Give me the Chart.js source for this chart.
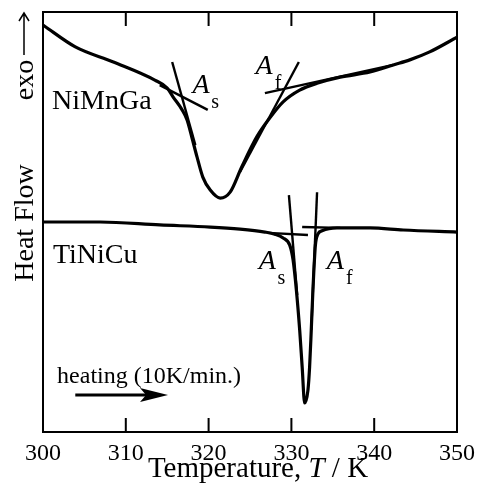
<!DOCTYPE html>
<html>
<head>
<meta charset="utf-8">
<script src="https://cdn.jsdelivr.net/npm/chart.js@4.4.1/dist/chart.umd.min.js"></script>
<style>
  html, body { margin: 0; padding: 0; background: #fff; }
</style>
</head>
<body>
<canvas id="dscChart" width="478" height="490"></canvas>
<script>
// DSC heating traces, temperature in K, heat flow in arbitrary units (exo up)
const niMnGaTemp = [300.0, 303.9, 308.5, 313.5, 315.0, 315.7, 316.8, 317.4, 318.0, 318.6, 319.3, 320.2, 321.4,
                    322.6, 324.0, 325.8, 327.4, 329.0, 331.0, 333.2, 335.9, 339.5, 342.3, 344.3, 346.7, 350.0];
const niMnGaHeat = [96.9, 91.7, 88.1, 83.8, 81.9, 79.8, 76.7, 74.3, 70.0, 65.5, 60.7, 57.6, 55.7,
                    57.1, 63.1, 70.2, 74.8, 78.6, 81.4, 83.1, 84.5, 85.7, 87.4, 88.6, 90.5, 94.0];

const tiNiCuTemp = [300.0, 306.9, 314.1, 320.2, 323.8, 326.8, 328.0, 329.0, 329.8, 330.2, 330.6, 331.0, 331.3,
                    331.6, 332.0, 332.2, 332.4, 332.6, 332.9, 333.2, 333.7, 335.5, 339.5, 343.5, 350.0];
const tiNiCuHeat = [50.0, 50.0, 49.3, 48.8, 48.3, 47.6, 47.1, 46.2, 44.5, 41.0, 33.8, 24.3, 15.5,
                    6.9, 10.0, 15.5, 24.3, 33.8, 44.5, 47.1, 47.9, 48.6, 48.6, 48.1, 47.6];

// tangent construction lines (start/end) used to read As and Af
const tangentTemps = [[314.1, 319.9], [315.6, 318.4], [326.8, 342.3], [330.9, 323.8],
                      [327.2, 332.0], [329.7, 330.7], [331.3, 335.9], [333.1, 332.4]];
const tangentHeats = [[82.6, 76.7], [88.1, 68.3], [80.7, 87.4], [88.1, 61.9],
                      [47.4, 46.9], [56.4, 32.6], [48.8, 48.6], [57.1, 24.3]];

const tickTemps = [300, 310, 320, 330, 340, 350];

// text annotations
const sampleNames = ['NiMnGa', 'TiNiCu'];
const sampleTemps = [301.1, 301.2];
const sampleHeats = [78.6, 41.9];

const markSubs = ['s', 'f', 's', 'f'];
const markTemps = [319.1, 326.7, 327.1, 335.3];
const markHeats = [82.4, 86.9, 40.5, 40.5];

const heatingText = 'heating (10K/min.)';
const heatingPos = [301.7, 11.7];
const heatingArrow = [303.9, 315.1, 8.8];

const FONT = '"Liberation Serif", "Times New Roman", serif';

function toPoints(xs, ys) {
    return xs.map((x, i) => ({ x: x, y: ys[i] }));
}

const datasets = [
    {
        label: 'NiMnGa',
        data: toPoints(niMnGaTemp, niMnGaHeat),
        borderColor: '#000',
        borderWidth: 3.2,
        pointRadius: 0,
        cubicInterpolationMode: 'monotone'
    },
    {
        label: 'TiNiCu',
        data: toPoints(tiNiCuTemp, tiNiCuHeat),
        borderColor: '#000',
        borderWidth: 3.2,
        pointRadius: 0,
        cubicInterpolationMode: 'monotone'
    }
];

tangentTemps.forEach(function (xs, i) {
    datasets.push({
        label: 'tangent ' + i,
        data: toPoints(xs, tangentHeats[i]),
        borderColor: '#000',
        borderWidth: 2.4,
        pointRadius: 0
    });
});

const decorations = {
    id: 'decorations',
    afterDraw(chart) {
        const ctx = chart.ctx;
        const a = chart.chartArea;
        const x = chart.scales.x;
        const y = chart.scales.y;
        ctx.save();
        ctx.fillStyle = '#000';
        ctx.strokeStyle = '#000';

        // frame with inward ticks on top and bottom
        ctx.lineWidth = 2;
        ctx.strokeRect(a.left, a.top, a.right - a.left, a.bottom - a.top);
        tickTemps.forEach(function (t) {
            const px = x.getPixelForValue(t);
            ctx.beginPath();
            ctx.moveTo(px, a.bottom);
            ctx.lineTo(px, a.bottom - 14);
            ctx.moveTo(px, a.top);
            ctx.lineTo(px, a.top + 14);
            ctx.stroke();
        });

        // sample names
        ctx.font = '28px ' + FONT;
        ctx.textAlign = 'left';
        ctx.textBaseline = 'middle';
        sampleNames.forEach(function (name, i) {
            ctx.fillText(name, x.getPixelForValue(sampleTemps[i]), y.getPixelForValue(sampleHeats[i]));
        });

        // As / Af markers
        markSubs.forEach(function (sub, i) {
            const px = x.getPixelForValue(markTemps[i]);
            const py = y.getPixelForValue(markHeats[i]);
            ctx.textAlign = 'center';
            ctx.font = 'italic 28px ' + FONT;
            ctx.fillText('A', px, py);
            ctx.font = '20px ' + FONT;
            ctx.fillText(sub, px + 14, py + 17);
        });

        // heating note and arrow
        ctx.font = '24px ' + FONT;
        ctx.textAlign = 'left';
        ctx.textBaseline = 'alphabetic';
        ctx.fillText(heatingText, x.getPixelForValue(heatingPos[0]), y.getPixelForValue(heatingPos[1]));
        const ax0 = x.getPixelForValue(heatingArrow[0]);
        const ax1 = x.getPixelForValue(heatingArrow[1]);
        const ay = y.getPixelForValue(heatingArrow[2]);
        ctx.lineWidth = 3;
        ctx.beginPath();
        ctx.moveTo(ax0, ay);
        ctx.lineTo(ax1 - 20, ay);
        ctx.stroke();
        ctx.beginPath();
        ctx.moveTo(ax1, ay);
        ctx.lineTo(ax1 - 28, ay - 7);
        ctx.lineTo(ax1 - 22, ay);
        ctx.lineTo(ax1 - 28, ay + 7);
        ctx.closePath();
        ctx.fill();

        // x title with italic T
        const parts = [['Temperature, ', 'normal'], ['T', 'italic'], [' / K', 'normal']];
        let total = 0;
        parts.forEach(function (p) {
            ctx.font = p[1] + ' 29px ' + FONT;
            total += ctx.measureText(p[0]).width;
        });
        let tx = (a.left + a.right) / 2 + 8 - total / 2;
        ctx.textAlign = 'left';
        parts.forEach(function (p) {
            ctx.font = p[1] + ' 29px ' + FONT;
            ctx.fillText(p[0], tx, 477);
            tx += ctx.measureText(p[0]).width;
        });

        // y title: Heat Flow and exo arrow
        ctx.save();
        ctx.translate(33, 223);
        ctx.rotate(-Math.PI / 2);
        ctx.textAlign = 'center';
        ctx.font = '28px ' + FONT;
        ctx.fillText('Heat Flow', 0, 0);
        ctx.restore();
        ctx.save();
        ctx.translate(33, 80);
        ctx.rotate(-Math.PI / 2);
        ctx.textAlign = 'center';
        ctx.font = '28px ' + FONT;
        ctx.fillText('exo', 0, 0);
        ctx.restore();
        ctx.lineWidth = 1.5;
        ctx.beginPath();
        ctx.moveTo(24, 55);
        ctx.lineTo(24, 13);
        ctx.moveTo(19, 21);
        ctx.lineTo(24, 13);
        ctx.lineTo(29, 21);
        ctx.stroke();

        ctx.restore();
    }
};

new Chart(document.getElementById('dscChart').getContext('2d'), {
    type: 'line',
    data: { datasets: datasets },
    options: {
        responsive: false,
        animation: false,
        layout: { padding: { top: 12, right: 21, left: 0, bottom: 0 } },
        plugins: {
            legend: { display: false },
            tooltip: { enabled: false }
        },
        scales: {
            x: {
                type: 'linear',
                min: 300,
                max: 350,
                grid: { display: false },
                border: { display: false },
                ticks: {
                    stepSize: 10,
                    padding: -1,
                    color: '#000',
                    font: { family: FONT, size: 24 }
                },
                afterFit: function (scale) {
                    scale.height = 58;
                    scale.paddingLeft = 0;
                    scale.paddingRight = 0;
                }
            },
            y: {
                min: 0,
                max: 100,
                grid: { display: false },
                border: { display: false },
                ticks: { display: false },
                afterFit: function (scale) { scale.width = 43; }
            }
        }
    },
    plugins: [decorations]
});
</script>
</body>
</html>
